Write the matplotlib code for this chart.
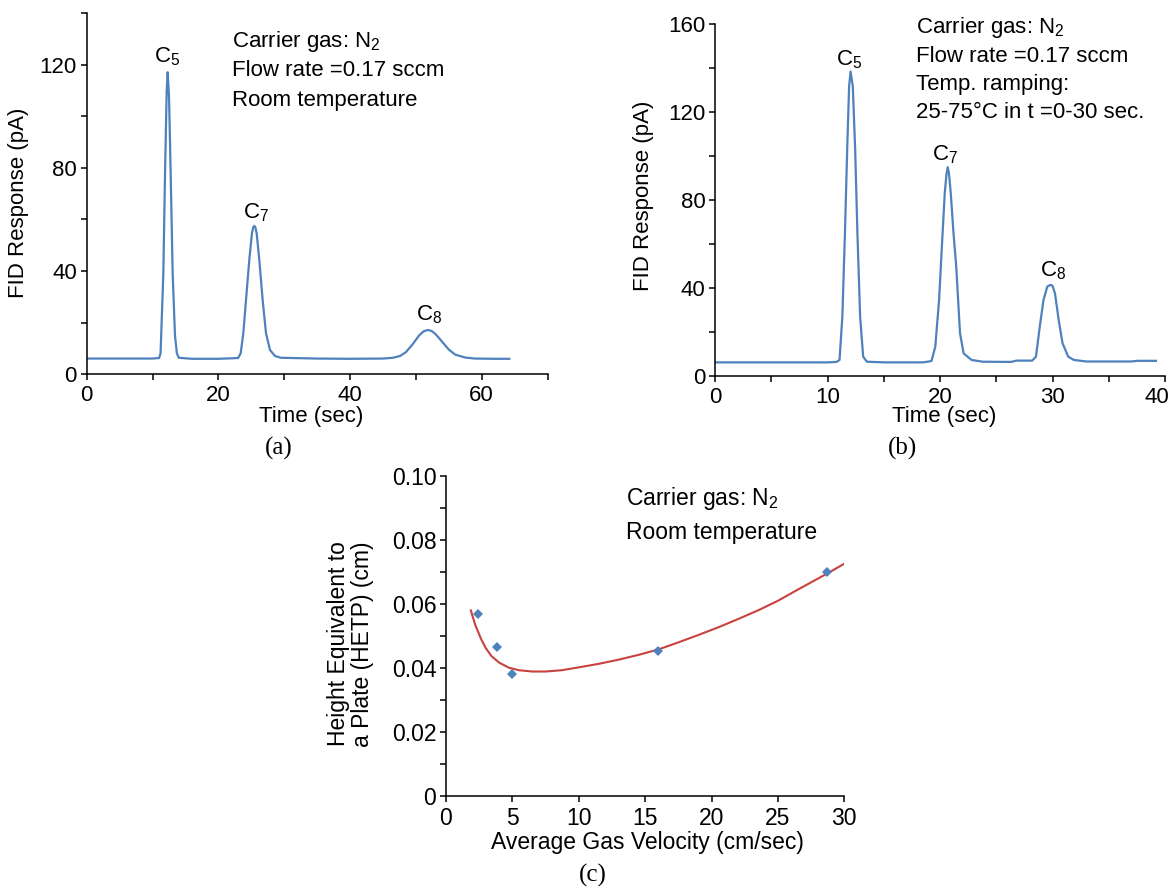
import matplotlib
matplotlib.use("Agg")
import matplotlib.pyplot as plt
from matplotlib.ticker import MultipleLocator, FuncFormatter
from matplotlib.transforms import blended_transform_factory, ScaledTranslation

plt.rcParams['font.family'] = ['Liberation Sans', 'DejaVu Sans']
plt.rcParams['mathtext.fontset'] = 'custom'
plt.rcParams['mathtext.rm'] = 'Liberation Sans'
plt.rcParams['mathtext.it'] = 'Liberation Sans:italic'
plt.rcParams['mathtext.bf'] = 'Liberation Sans:bold'

# ---------------- data ----------------
# (a) chromatogram, room temperature
a_time = [0, 5, 10, 11.0, 11.22, 11.64, 11.9, 12.15, 12.3, 12.5, 12.65, 13.06, 13.41, 13.7, 14.0,
          16, 20, 23.0, 23.39, 23.79, 24.2, 24.7, 25.1, 25.3, 25.46, 25.62, 25.82, 26.22, 26.73,
          27.24, 27.85, 28.6, 29.5, 35, 40, 45, 46.5, 47.6, 48.5, 49.5, 50.5, 51.2, 51.84, 52.4,
          53.0, 54.0, 55.0, 56.0, 57.5, 59, 62, 64.2]
a_resp = [6.0, 6.0, 6.0, 6.2, 8.0, 39, 78, 110, 117.2, 108, 91, 39, 15, 8.0, 6.3,
          5.9, 5.9, 6.2, 8.0, 15.8, 28.7, 44.3, 54.6, 57.0, 57.5, 57.0, 54.6, 44.3, 28.7,
          15.8, 9.3, 7.0, 6.3, 6.0, 5.9, 6.0, 6.3, 7.0, 8.5, 11.5, 15.0, 16.6, 17.1, 16.7,
          15.5, 12.5, 9.5, 7.5, 6.4, 6.0, 5.9, 5.9]
a_peak_names = ["C$_\\mathregular{5}$", "C$_\\mathregular{7}$", "C$_\\mathregular{8}$"]
a_peak_label_t = [10.2, 23.7, 50.0]
a_peak_label_v = [120.9, 60.6, 21.0]
a_notes = ["Carrier gas: N$_\\mathregular{2}$", "Flow rate =0.17 sccm", "Room temperature"]

# (b) chromatogram, temperature ramping
b_time = [0, 5, 10, 10.8, 11.07, 11.32, 11.55, 11.75, 11.92, 12.05, 12.25, 12.46, 12.66, 12.9,
          13.17, 13.5, 15, 18.5, 19.24, 19.58, 19.92, 20.15, 20.42, 20.58, 20.69, 20.8, 20.96,
          21.2, 21.44, 21.78, 22.1, 22.8, 23.8, 26.3, 26.8, 27.8, 28.2, 28.53, 28.87, 29.2,
          29.54, 29.75, 29.88, 30.0, 30.22, 30.55, 30.89, 31.4, 31.9, 33, 37, 37.5, 39.2]
b_resp = [6.2, 6.2, 6.2, 6.4, 7.3, 27, 64.9, 102.9, 131.7, 138.5, 131.7, 102.9, 64.9, 27,
          8.8, 6.5, 6.2, 6.2, 6.8, 13.3, 34.6, 57.3, 83, 92, 95, 92, 83,
          65, 50, 19.4, 10.3, 7.3, 6.5, 6.4, 7.0, 7.0, 7.0, 8.8, 22.5, 34.6,
          40.7, 41.3, 41.4, 41.0, 37.6, 25.5, 14.9, 8.8, 7.3, 6.6, 6.6, 6.9, 6.9]
b_peak_names = ["C$_\\mathregular{5}$", "C$_\\mathregular{7}$", "C$_\\mathregular{8}$"]
b_peak_label_t = [10.8, 19.3, 28.9]
b_peak_label_v = [141.4, 98.2, 45.1]
b_notes = ["Carrier gas: N$_\\mathregular{2}$", "Flow rate =0.17 sccm", "Temp. ramping:",
           "25-75\u00b0C in t =0-30 sec."]

# (c) HETP vs. average gas velocity
c_velocity = [2.44, 3.87, 4.94, 15.96, 28.7]
c_hetp = [0.0568, 0.0466, 0.0382, 0.0453, 0.0699]
c_fit_velocity = [1.87, 2.2, 2.65, 3.0, 3.43, 4.0, 4.73, 5.5, 6.5, 7.5, 8.7, 10, 11.5, 13,
                  14.5, 16, 17.5, 19, 20.5, 22, 23.5, 25, 26.5, 28, 29, 30]
c_fit_hetp = [0.0580, 0.0535, 0.0490, 0.0462, 0.0437, 0.0417, 0.0401, 0.0393, 0.0389,
              0.0389, 0.0393, 0.0402, 0.0413, 0.0426, 0.0441, 0.0458, 0.0480, 0.0503,
              0.0527, 0.0553, 0.0580, 0.0610, 0.0645, 0.0679, 0.0702, 0.0726]
c_notes = ["Carrier gas: N$_\\mathregular{2}$", "Room temperature"]

# ---------------- figure ----------------
W, H = 1173, 888
fig = plt.figure(figsize=(W / 100, H / 100), dpi=100)

def box(l, t, r, b):
    return [l / W, 1 - b / H, (r - l) / W, (b - t) / H]

def fxy(x, y):
    return (x / W, 1 - y / H)

BLUE = '#4F81BD'
RED = '#C8423F'
FS = 16
TICK_LEN = 4
TICK_PAD_X = 4

def style(ax, fs=FS):
    for s in ['top', 'right']:
        ax.spines[s].set_visible(False)
    for s in ['left', 'bottom']:
        ax.spines[s].set_linewidth(1.1)
        ax.spines[s].set_color('black')
    ax.tick_params(which='both', direction='out', length=TICK_LEN, width=1.1, colors='black',
                   labelsize=fs)
    ax.tick_params(axis='x', pad=TICK_PAD_X)
    ax.tick_params(axis='y', pad=3)

# (a)
axa = fig.add_axes(box(86.7, 13.5, 547.5, 374))
axa.plot(a_time, a_resp, color=BLUE, lw=1.6, solid_joinstyle='round')
axa.set_xlim(0, 70)
axa.set_ylim(0, 140)
axa.xaxis.set_major_locator(MultipleLocator(20))
axa.xaxis.set_minor_locator(MultipleLocator(10))
axa.yaxis.set_major_locator(MultipleLocator(40))
axa.yaxis.set_minor_locator(MultipleLocator(20))
style(axa)
axa.set_xlabel("Time (sec)", fontsize=FS)
axa.set_ylabel("FID Response (pA)", fontsize=FS)
axa.xaxis.set_label_coords(0.487, -0.089)
axa.yaxis.set_label_coords(-0.125, 0.475)
for name, t, v in zip(a_peak_names, a_peak_label_t, a_peak_label_v):
    axa.text(t, v, name, fontsize=FS, ha='left', va='baseline')
for i, s in enumerate(a_notes):
    fig.text(*fxy(231.6, 46.7 + 29.5 * i), s, fontsize=FS, ha='left', va='baseline')
fig.text(*fxy(278.8, 448), "(a)", fontsize=18, family='Liberation Serif',
         ha='center', va='center')

# (b)
B_XMAX = 40
axb = fig.add_axes(box(715, 24.3, 1165, 376))
axb.plot(b_time, b_resp, color=BLUE, lw=1.6, solid_joinstyle='round')
axb.set_xlim(0, B_XMAX)
axb.set_ylim(0, 160)
axb.xaxis.set_major_locator(MultipleLocator(10))
axb.xaxis.set_minor_locator(MultipleLocator(5))
axb.yaxis.set_major_locator(MultipleLocator(40))
axb.yaxis.set_minor_locator(MultipleLocator(20))
# the last label ("40") is drawn separately so it stays inside the canvas
axb.xaxis.set_major_formatter(FuncFormatter(lambda v, p: "" if abs(v - B_XMAX) < 1e-9 else f"{v:g}"))
style(axb)
trans_b = blended_transform_factory(axb.transData, axb.transAxes) + \
    ScaledTranslation(-0.08, -(TICK_LEN + TICK_PAD_X) / 72, fig.dpi_scale_trans)
axb.text(B_XMAX, 0, f"{B_XMAX:g}", transform=trans_b, fontsize=FS, ha='center', va='top')
axb.set_xlabel("Time (sec)", fontsize=FS)
axb.set_ylabel("FID Response (pA)", fontsize=FS)
axb.xaxis.set_label_coords(0.51, -0.085)
axb.yaxis.set_label_coords(-0.136, 0.512)
for name, t, v in zip(b_peak_names, b_peak_label_t, b_peak_label_v):
    axb.text(t, v, name, fontsize=FS, ha='left', va='baseline')
for i, s in enumerate(b_notes):
    fig.text(*fxy(916, 33.3 + 28.3 * i), s, fontsize=FS, ha='left', va='baseline')
fig.text(*fxy(902.8, 448), "(b)", fontsize=18, family='Liberation Serif',
         ha='center', va='center')

# (c)
axc = fig.add_axes(box(446, 476, 844.3, 796))
axc.plot(c_fit_velocity, c_fit_hetp, color=RED, lw=1.5)
axc.plot(c_velocity, c_hetp, linestyle='none', marker='D', markersize=5.5,
         color=BLUE, markeredgewidth=0)
axc.set_xlim(0, 30)
axc.set_ylim(0, 0.10)
axc.xaxis.set_major_locator(MultipleLocator(5))
axc.yaxis.set_major_locator(MultipleLocator(0.02))
axc.yaxis.set_minor_locator(MultipleLocator(0.01))
axc.yaxis.set_major_formatter(FuncFormatter(lambda v, p: "0" if abs(v) < 1e-9 else f"{v:.2f}"))
style(axc, 16.5)
axc.set_xlabel("Average Gas Velocity (cm/sec)", fontsize=16.5)
axc.set_ylabel("Height Equivalent to\na Plate (HETP) (cm)", fontsize=16.5, linespacing=1.05)
axc.xaxis.set_label_coords(0.505, -0.109)
axc.yaxis.set_label_coords(-0.182, 0.475)
for i, s in enumerate(c_notes):
    fig.text(*fxy(626.5, 505 + 34 * i), s, fontsize=16.5, ha='left', va='baseline')
fig.text(*fxy(592.7, 875), "(c)", fontsize=18, family='Liberation Serif',
         ha='center', va='center')

fig.savefig("out.png", dpi=100)
